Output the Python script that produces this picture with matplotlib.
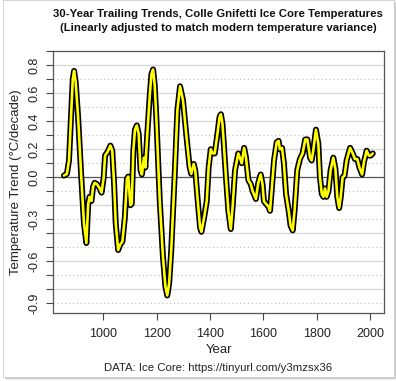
import matplotlib
matplotlib.use("Agg")
import matplotlib.pyplot as plt
from matplotlib.patches import Rectangle
import numpy as np

years = [853, 864, 872, 880, 886, 891, 897, 906, 918, 928, 937, 944, 949, 956, 962, 968,
         977, 987, 994, 1002, 1007, 1016, 1021, 1027, 1034, 1041, 1047, 1056, 1064, 1072,
         1081, 1089, 1094, 1102, 1107, 1113, 1119, 1126, 1133, 1140, 1145, 1153, 1158, 1165,
         1175, 1181, 1187, 1193, 1199, 1212, 1224, 1233, 1240, 1247, 1255, 1268, 1278, 1288,
         1299, 1311, 1324, 1330, 1339, 1345, 1353, 1363, 1368, 1378, 1388, 1395, 1403, 1411,
         1418, 1428, 1436, 1441, 1447, 1455, 1460, 1469, 1478, 1485, 1494, 1506, 1512, 1519,
         1528, 1535, 1544, 1553, 1560, 1572, 1581, 1590, 1597, 1602, 1610, 1619, 1625, 1631,
         1640, 1650, 1657, 1662, 1670, 1677, 1685, 1695, 1702, 1710, 1717, 1727, 1737, 1747,
         1757, 1765, 1775, 1781, 1787, 1797, 1806, 1812, 1819, 1825, 1831, 1837, 1844, 1852,
         1862, 1870, 1877, 1884, 1890, 1897, 1904, 1912, 1925, 1935, 1943, 1952, 1960, 1970,
         1977, 1987, 1995, 2002, 2010]
trend = [0.012, 0.024, 0.12, 0.45, 0.70, 0.76, 0.68, 0.43, 0.0, -0.33, -0.47, -0.19, -0.14,
         -0.17, -0.07, -0.04, -0.05, -0.08, -0.11, 0.0, 0.155, 0.18, 0.2, 0.226, 0.19, -0.05,
         -0.33, -0.52, -0.48, -0.46, -0.29, -0.01, 0.005, -0.2, -0.19, 0.19, 0.34, 0.37, 0.31,
         0.05, 0.02, 0.14, 0.07, 0.3, 0.6, 0.74, 0.77, 0.66, 0.43, -0.17, -0.57, -0.78, -0.845,
         -0.76, -0.52, 0.02, 0.48, 0.65, 0.55, 0.31, 0.07, 0.024, 0.095, 0.048, -0.14, -0.36,
         -0.39, -0.29, -0.17, 0.07, 0.2, 0.17, 0.17, 0.31, 0.43, 0.45, 0.38, 0.15, 0.0, -0.24,
         -0.37, -0.21, 0.05, 0.17, 0.14, 0.1, 0.21, 0.14, -0.02, -0.05, -0.1, -0.155, -0.04,
         0.02, -0.05, -0.17, -0.19, -0.21, -0.24, -0.1, 0.12, 0.25, 0.26, 0.2, 0.21, 0.1, -0.12,
         -0.24, -0.345, -0.38, -0.24, 0.05, 0.13, 0.17, 0.27, 0.27, 0.14, 0.12, 0.19, 0.34,
         0.24, 0.0, -0.12, -0.14, -0.08, -0.14, -0.1, 0.05, 0.14, 0.06, -0.14, -0.22, -0.14,
         0.0, 0.01, 0.12, 0.21, 0.17, 0.13, 0.13, 0.07, 0.02, 0.11, 0.19, 0.155, 0.155, 0.17]

x_ticks = [1000, 1200, 1400, 1600, 1800, 2000]
y_ticks = [-0.9, -0.8, -0.7, -0.6, -0.5, -0.4, -0.3, -0.2, -0.1, 0.0,
           0.1, 0.2, 0.3, 0.4, 0.5, 0.6, 0.7, 0.8, 0.9]
y_labeled = {0.8: "0.8", 0.6: "0.6", 0.4: "0.4", 0.2: "0.2", 0.0: "0.0",
             -0.3: "-0.3", -0.6: "-0.6", -0.9: "-0.9"}
title = "30-Year Trailing Trends, Colle Gnifetti Ice Core Temperatures\n(Linearly adjusted to match modern temperature variance)"
source = "DATA: Ice Core: https://tinyurl.com/y3mzsx36"

plt.rcParams['font.family'] = ['Liberation Sans', 'DejaVu Sans']

fig = plt.figure(figsize=(3.96, 3.81), dpi=100)
fig.patch.set_facecolor('white')
W, H = 396.0, 381.0
# drop shadow and card
for i, a in enumerate([0.10, 0.18, 0.30]):
    off = 3 - i
    fig.patches.append(Rectangle(((3 + off) / W, (381 - 377 - off) / H), 391 / W, 377 / H,
                                 transform=fig.transFigure, facecolor='#555555', alpha=a,
                                 edgecolor='none', zorder=-3))
fig.patches.append(Rectangle((3 / W, (381 - 377) / H), 391 / W, 377 / H,
                             transform=fig.transFigure, facecolor='white',
                             edgecolor='#cccccc', linewidth=0.6, zorder=-2))

ax = fig.add_axes([53 / W, 1 - 313 / H, (384 - 53) / W, (313 - 51) / H])
ax.set_zorder(2)
ax.set_facecolor('none')
ax.set_xlim(812, 2052)
ax.set_ylim(-0.97, 0.902)

for yv in y_ticks:
    if abs(yv) < 1e-9:
        ax.axhline(0, color='#555555', lw=0.9, zorder=1)
    elif round(yv * 10) % 2 == 0:
        ax.axhline(yv, color='#d6d6d6', lw=0.9, zorder=1)
    else:
        ax.axhline(yv, color='#bdbdbd', lw=0.8, ls=(0, (1, 2.5)), zorder=1)

ax.plot(years, trend, color='black', lw=4.3, solid_joinstyle='round',
        solid_capstyle='round', zorder=3)
ax.plot(years, trend, color='#ffff00', lw=1.9, solid_joinstyle='round',
        solid_capstyle='round', zorder=4)

ax.set_xticks(x_ticks)
ax.set_xticklabels([str(v) for v in x_ticks], fontsize=9)
ax.set_yticks(y_ticks)
ax.set_yticklabels([y_labeled.get(round(v, 1), "") for v in y_ticks], fontsize=9,
                   rotation=90, va='center')
ax.tick_params(axis='both', direction='out', length=5, width=0.8, colors='#444444',
               labelcolor='#222222')
ax.tick_params(axis='x', pad=6)
ax.tick_params(axis='y', pad=4)
for s in ax.spines.values():
    s.set_color('#555555')
    s.set_linewidth(0.9)

ax.set_xlabel("Year", fontsize=9.5, labelpad=3, color='#222222')
ax.set_ylabel("Temperature Trend (°C/decade)", fontsize=9.5, labelpad=5, color='#222222')

fig.text(218 / W, 1 - 21 / H, title, ha='center', va='center', fontsize=8.2,
         fontweight='bold', linespacing=1.5, color='#111111')
fig.text(218 / W, 1 - 368 / H, source, ha='center', va='center', fontsize=8.2,
         color='#222222')

fig.savefig("out.png", dpi=100, facecolor='white')
